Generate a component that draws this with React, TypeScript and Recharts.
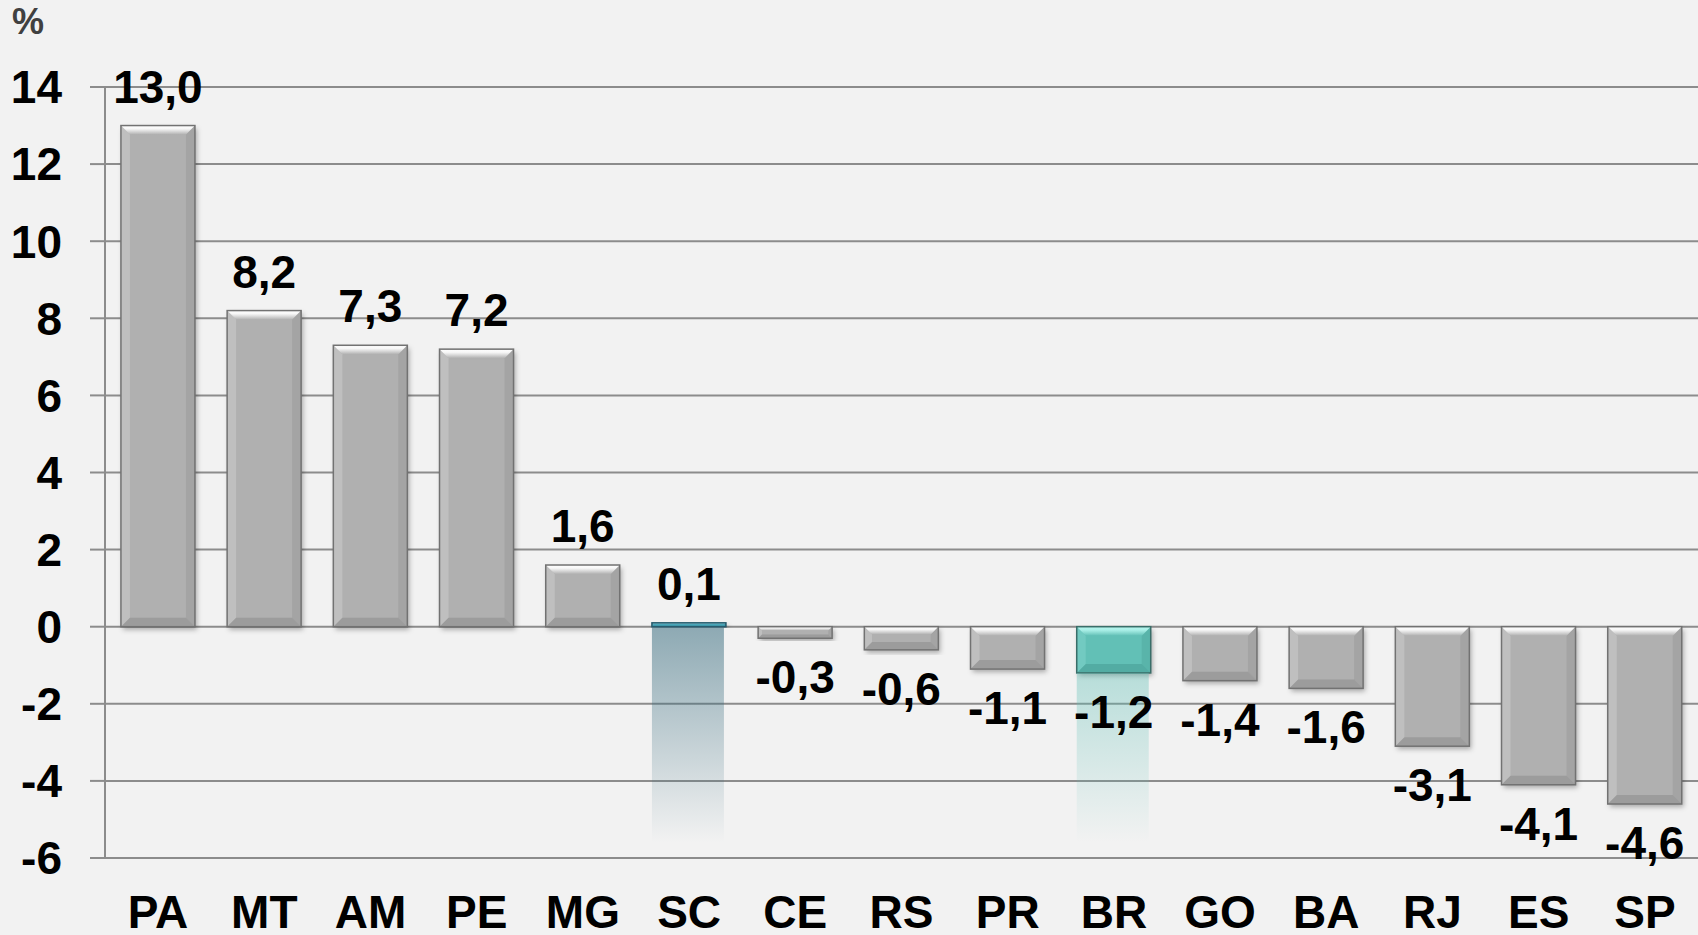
import { Bar, BarChart, CartesianGrid, LabelList, XAxis, YAxis } from "recharts";

const categories = ["PA", "MT", "AM", "PE", "MG", "SC", "CE", "RS", "PR", "BR", "GO", "BA", "RJ", "ES", "SP"];
const values = [13.0, 8.2, 7.3, 7.2, 1.6, 0.1, -0.3, -0.6, -1.1, -1.2, -1.4, -1.6, -3.1, -4.1, -4.6];
// faded highlight under SC and BR
const shade = [0, 0, 0, 0, 0, -5.6, 0, 0, 0, -4.4, 0, 0, 0, 0, 0];
const yTicks = [-6, -4, -2, 0, 2, 4, 6, 8, 10, 12, 14];

const data = categories.map((name, i) => ({ name, value: values[i], shade: shade[i] }));

const FONT = '"Liberation Sans", Arial, sans-serif';
const GRID = "#8c8c8c";

type Palette = { base: string; light: string; dark: string; edge: string };
const palettes: Record<string, Palette> = {
  default: { base: "#b0b0b0", light: "#ffffff", dark: "#808080", edge: "#727272" },
  SC: { base: "#4aa6b8", light: "#a6e2ec", dark: "#2f7585", edge: "#24586a" },
  BR: { base: "#62c0b6", light: "#b4f6ee", dark: "#3f8f87", edge: "#3a6e69" },
};
const shadeColors: Record<string, { color: string; opacity: number }> = {
  SC: { color: "#3b6e80", opacity: 0.55 },
  BR: { color: "#5fbfb5", opacity: 0.4 },
};

const fmt = (v: number) => v.toFixed(1).replace(".", ",");

function BevelBar(props: any) {
  const { x, y, width, height, payload, index } = props;
  const h = Math.abs(height);
  if (!h || h < 0.5) return null;
  const t = Math.min(y, y + height);
  const l = x;
  const r = x + width;
  const bt = t + h;
  const p = palettes[payload.name] ?? palettes.default;
  const b = Math.min(9, h / 3, width / 4);
  const gid = `bevel-top-${index}`;
  return (
    <g>
      <defs>
        <linearGradient id={gid} x1="0" y1="0" x2="0" y2="1">
          <stop offset="0%" stopColor={p.light} />
          <stop offset="35%" stopColor={p.light} stopOpacity={0.9} />
          <stop offset="100%" stopColor={p.base} />
        </linearGradient>
      </defs>
      <rect x={l} y={t} width={width} height={h} fill={p.base} filter="url(#barShadow)" />
      <polygon points={`${l},${t} ${l + b},${t + b} ${l + b},${bt - b} ${l},${bt}`} fill={p.light} fillOpacity={0.2} />
      <polygon points={`${r},${t} ${r - b},${t + b} ${r - b},${bt - b} ${r},${bt}`} fill={p.dark} fillOpacity={0.25} />
      <polygon points={`${l},${bt} ${l + b},${bt - b} ${r - b},${bt - b} ${r},${bt}`} fill={p.dark} fillOpacity={0.4} />
      <polygon points={`${l},${t} ${r},${t} ${r - b},${t + b} ${l + b},${t + b}`} fill={`url(#${gid})`} />
      <rect x={l} y={t} width={width} height={h} fill="none" stroke={p.edge} strokeWidth={1.5} />
    </g>
  );
}

function ShadeBar(props: any) {
  const { x, y, width, height, payload, index } = props;
  const h = Math.abs(height);
  const s = shadeColors[payload.name];
  if (!s || !h || h < 0.5) return null;
  const t = Math.min(y, y + height);
  const gid = `shade-${index}`;
  return (
    <g>
      <defs>
        <linearGradient id={gid} x1="0" y1="0" x2="0" y2="1">
          <stop offset="0%" stopColor={s.color} stopOpacity={s.opacity} />
          <stop offset="100%" stopColor={s.color} stopOpacity={0} />
        </linearGradient>
      </defs>
      <rect x={x} y={t} width={width - 2} height={h} fill={`url(#${gid})`} />
    </g>
  );
}

function ValueLabel(props: any) {
  const { x, y, width, height, value } = props;
  const top = Math.min(y, y + height);
  const bottom = Math.max(y, y + height);
  const cy = value >= 0 ? top - 39 : bottom + 39;
  return (
    <text
      x={x + width / 2}
      y={cy}
      textAnchor="middle"
      dominantBaseline="central"
      fill="#000"
      fontFamily={FONT}
      fontWeight={700}
      fontSize={46}
    >
      {fmt(value)}
    </text>
  );
}

export default function App() {
  return (
    <div style={{ position: "absolute", left: 0, top: 0, width: 1698, height: 935, background: "#f2f2f2" }}>
      <div
        style={{
          position: "absolute",
          left: 12,
          top: 0,
          fontFamily: FONT,
          fontWeight: 700,
          fontSize: 36,
          color: "#404040",
          lineHeight: "44px",
        }}
      >
        %
      </div>
      <BarChart
        width={1698}
        height={935}
        data={data}
        stackOffset="sign"
        barCategoryGap="15%"
        margin={{ top: 87, right: 0, bottom: 0, left: 0 }}
      >
        <defs>
          <filter id="barShadow" x="-20%" y="-20%" width="140%" height="140%">
            <feDropShadow dx={2} dy={3} stdDeviation={2.5} floodColor="#000" floodOpacity={0.3} />
          </filter>
        </defs>
        <CartesianGrid vertical={false} stroke={GRID} strokeWidth={2} />
        <XAxis
          dataKey="name"
          height={77}
          axisLine={false}
          tickLine={false}
          tickSize={0}
          tickMargin={37}
          interval={0}
          tick={{ fill: "#000", fontSize: 46, fontWeight: 700, fontFamily: FONT }}
        />
        <YAxis
          width={105}
          domain={[-6, 14]}
          ticks={yTicks}
          interval={0}
          tickSize={15}
          tickMargin={28}
          axisLine={{ stroke: GRID, strokeWidth: 2 }}
          tickLine={{ stroke: GRID, strokeWidth: 2 }}
          tick={{ fill: "#000", fontSize: 46, fontWeight: 700, fontFamily: FONT }}
        />
        <Bar dataKey="value" stackId="s" shape={<BevelBar />} isAnimationActive={false}>
          <LabelList dataKey="value" content={<ValueLabel />} />
        </Bar>
        <Bar dataKey="shade" stackId="s" shape={<ShadeBar />} isAnimationActive={false} />
      </BarChart>
    </div>
  );
}
